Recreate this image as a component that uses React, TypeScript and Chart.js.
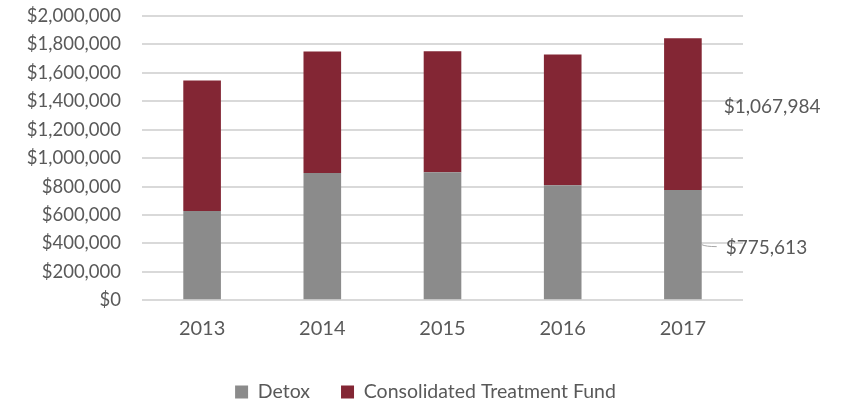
import React, { useEffect, useRef } from "react";
import { Chart, registerables } from "chart.js";

Chart.register(...registerables);

const years = ["2013", "2014", "2015", "2016", "2017"];
const detox = [628000, 895000, 900000, 809000, 775613];
const consolidatedFund = [918000, 855000, 852000, 920000, 1067984];
const yTicks = [0, 200000, 400000, 600000, 800000, 1000000, 1200000, 1400000, 1600000, 1800000, 2000000];

const FONT = "Lato, 'Open Sans', sans-serif";
const TEXT = "#595959";
const GRAY = "#8b8b8b";
const MAROON = "#832634";

const fmt = (v: number) => "$" + Math.round(v).toLocaleString("en-US");

const endLabels = {
  id: "endLabels",
  afterDatasetsDraw(chart: any) {
    const ctx = chart.ctx;
    const last = years.length - 1;
    const m0 = chart.getDatasetMeta(0).data[last];
    const m1 = chart.getDatasetMeta(1).data[last];
    if (!m0 || !m1) return;
    const right = m0.x + m0.width / 2;
    ctx.save();
    ctx.font = `19px ${FONT}`;
    ctx.fillStyle = TEXT;
    ctx.textBaseline = "middle";
    ctx.textAlign = "left";
    const y1 = (m1.y + m1.base) / 2 - 7;
    ctx.fillText(fmt(consolidatedFund[last]), right + 22, y1);
    const y0 = (m0.y + m0.base) / 2 + 2;
    ctx.strokeStyle = "#a6a6a6";
    ctx.lineWidth = 1;
    ctx.beginPath();
    ctx.moveTo(right, y0 - 2);
    ctx.quadraticCurveTo(right + 4, y0, right + 15, y0);
    ctx.stroke();
    ctx.fillText(fmt(detox[last]), right + 24, y0 + 1);
    ctx.restore();
  },
};

export default function App() {
  const ref = useRef<HTMLCanvasElement | null>(null);
  useEffect(() => {
    if (!ref.current) return;
    const chart = new Chart(ref.current, {
      type: "bar",
      data: {
        labels: years,
        datasets: [
          { label: "Detox", data: detox, backgroundColor: GRAY, barPercentage: 0.313, categoryPercentage: 1 },
          { label: "Consolidated Treatment Fund", data: consolidatedFund, backgroundColor: MAROON, barPercentage: 0.313, categoryPercentage: 1 },
        ],
      },
      options: {
        animation: false,
        responsive: true,
        maintainAspectRatio: false,
        layout: { padding: { top: 16, right: 0, bottom: -10.75, left: 8 } },
        scales: {
          x: {
            stacked: true,
            grid: { display: false, drawTicks: false },
            border: { display: false },
            ticks: { color: TEXT, font: { family: FONT, size: 20 }, padding: 16.5 },
            afterFit: (s: any) => {
              s.height = 51;
            },
          },
          y: {
            stacked: true,
            min: 0,
            max: 2000000,
            afterBuildTicks: (s: any) => {
              s.ticks = yTicks.map((v) => ({ value: v }));
            },
            afterFit: (s: any) => {
              s.width = 134;
              s.paddingTop = 0;
              s.paddingBottom = 0;
            },
            grid: { color: "#d9d9d9", lineWidth: 2, drawTicks: false },
            border: { display: false },
            ticks: {
              color: TEXT,
              font: { family: FONT, size: 18.5 },
              padding: 21,
              callback: (v: any) => fmt(Number(v)),
            },
          },
          yRight: {
            position: "right",
            display: true,
            grid: { display: false, drawTicks: false },
            border: { display: false },
            ticks: { display: false },
            afterFit: (s: any) => {
              s.width = 100;
              s.paddingTop = 0;
              s.paddingBottom = 0;
            },
          },
        },
        plugins: {
          legend: {
            position: "bottom",
            labels: {
              color: TEXT,
              font: { family: FONT, size: 19.5 },
              boxWidth: 13,
              boxHeight: 13,
              padding: 31,
            },
          },
          tooltip: { enabled: false },
        },
      },
      plugins: [endLabels],
    });
    return () => chart.destroy();
  }, []);
  return (
    <div style={{ position: "fixed", left: 0, top: 0, width: 843, height: 401, background: "#fff" }}>
      <canvas ref={ref} />
    </div>
  );
}
